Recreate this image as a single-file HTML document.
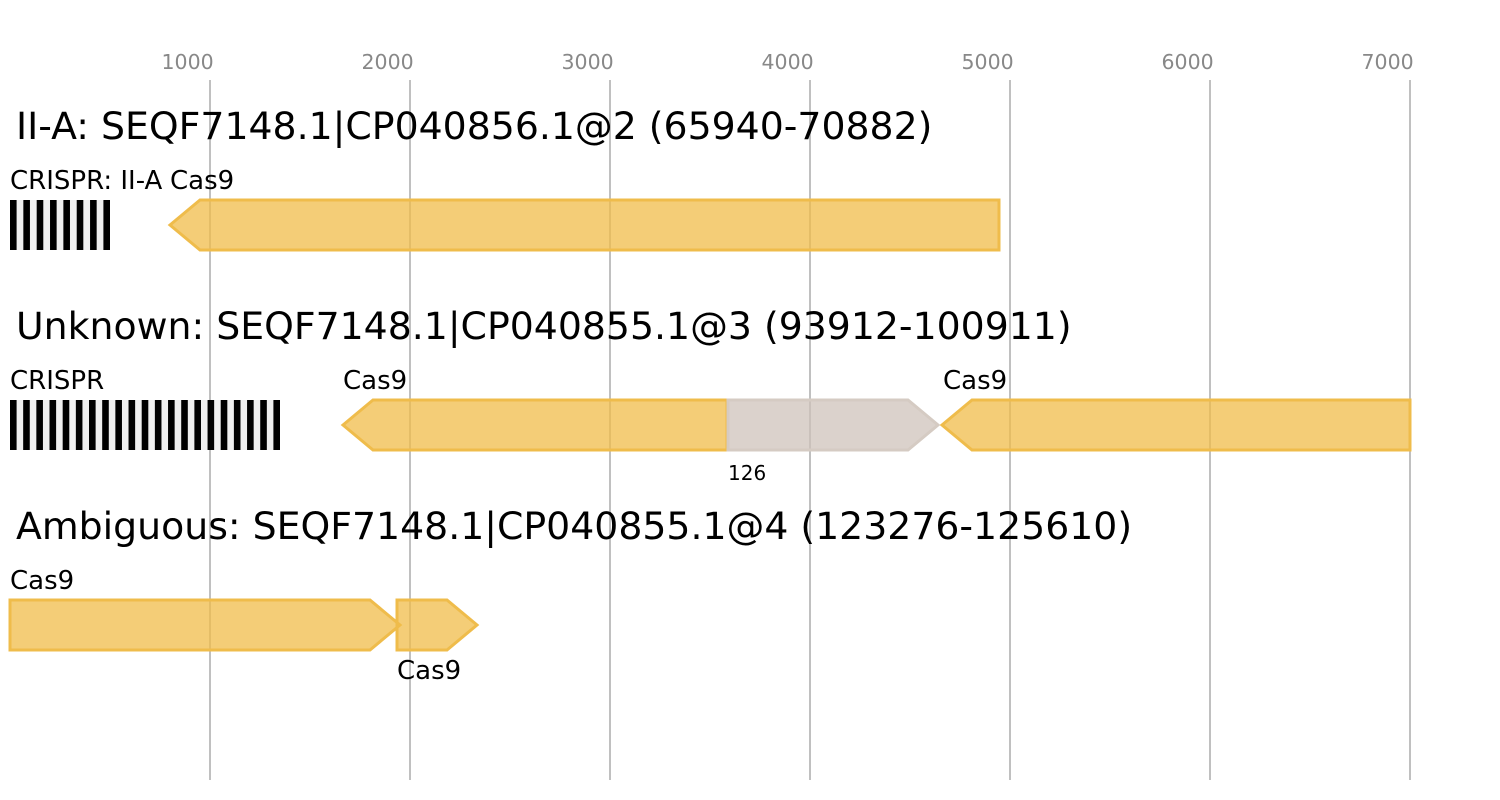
<!DOCTYPE html>
<html>
<head>
<meta charset="utf-8">
<style>
  html,body{margin:0;padding:0;background:#fff;}
  svg{display:block;}
  text{font-family:"DejaVu Sans","Liberation Sans",sans-serif;}
</style>
</head>
<body>
<svg width="1500" height="800" viewBox="0 0 1500 800" xmlns="http://www.w3.org/2000/svg">
  <rect x="0" y="0" width="1500" height="800" fill="#ffffff"/>

  <!-- grid lines -->
  <g stroke="#c0c0c0" stroke-width="2">
    <line x1="210" y1="80" x2="210" y2="780"/>
    <line x1="410" y1="80" x2="410" y2="780"/>
    <line x1="610" y1="80" x2="610" y2="780"/>
    <line x1="810" y1="80" x2="810" y2="780"/>
    <line x1="1010" y1="80" x2="1010" y2="780"/>
    <line x1="1210" y1="80" x2="1210" y2="780"/>
    <line x1="1410" y1="80" x2="1410" y2="780"/>
  </g>

  <!-- tick labels -->
  <g fill="#888888" font-size="20.5">
    <text x="161.5" y="69">1000</text>
    <text x="361.5" y="69">2000</text>
    <text x="561.5" y="69">3000</text>
    <text x="761.5" y="69">4000</text>
    <text x="961.5" y="69">5000</text>
    <text x="1161.5" y="69">6000</text>
    <text x="1361.5" y="69">7000</text>
  </g>

  <!-- titles -->
  <g fill="#000" font-size="37.8">
    <text x="16" y="139">II-A: SEQF7148.1|CP040856.1@2 (65940-70882)</text>
    <text x="16" y="339">Unknown: SEQF7148.1|CP040855.1@3 (93912-100911)</text>
    <text x="16" y="539">Ambiguous: SEQF7148.1|CP040855.1@4 (123276-125610)</text>
  </g>

  <!-- small labels -->
  <g fill="#000" font-size="26">
    <text x="10" y="189">CRISPR: II-A</text>
    <text x="170" y="189">Cas9</text>
    <text x="10" y="389">CRISPR</text>
    <text x="343" y="389">Cas9</text>
    <text x="943" y="389">Cas9</text>
    <text x="10" y="589">Cas9</text>
    <text x="397" y="679">Cas9</text>
  </g>
  <text x="728" y="480" font-size="20" fill="#000">126</text>

  <!-- CRISPR array row 1 -->
  <rect x="10" y="200" width="100" height="50" fill="#efefef"/>
  <g fill="#000">
    <rect x="10" y="200" width="6.6" height="50"/>
    <rect x="23.34" y="200" width="6.6" height="50"/>
    <rect x="36.69" y="200" width="6.6" height="50"/>
    <rect x="50.03" y="200" width="6.6" height="50"/>
    <rect x="63.37" y="200" width="6.6" height="50"/>
    <rect x="76.71" y="200" width="6.6" height="50"/>
    <rect x="90.06" y="200" width="6.6" height="50"/>
    <rect x="103.4" y="200" width="6.6" height="50"/>
  </g>

  <!-- CRISPR array row 2 -->
  <rect x="10" y="400" width="270" height="50" fill="#efefef"/>
  <g fill="#000">
    <rect x="10" y="400" width="6.6" height="50"/>
    <rect x="23.17" y="400" width="6.6" height="50"/>
    <rect x="36.34" y="400" width="6.6" height="50"/>
    <rect x="49.51" y="400" width="6.6" height="50"/>
    <rect x="62.68" y="400" width="6.6" height="50"/>
    <rect x="75.85" y="400" width="6.6" height="50"/>
    <rect x="89.02" y="400" width="6.6" height="50"/>
    <rect x="102.19" y="400" width="6.6" height="50"/>
    <rect x="115.36" y="400" width="6.6" height="50"/>
    <rect x="128.53" y="400" width="6.6" height="50"/>
    <rect x="141.7" y="400" width="6.6" height="50"/>
    <rect x="154.87" y="400" width="6.6" height="50"/>
    <rect x="168.04" y="400" width="6.6" height="50"/>
    <rect x="181.21" y="400" width="6.6" height="50"/>
    <rect x="194.38" y="400" width="6.6" height="50"/>
    <rect x="207.55" y="400" width="6.6" height="50"/>
    <rect x="220.72" y="400" width="6.6" height="50"/>
    <rect x="233.89" y="400" width="6.6" height="50"/>
    <rect x="247.06" y="400" width="6.6" height="50"/>
    <rect x="260.23" y="400" width="6.6" height="50"/>
    <rect x="273.4" y="400" width="6.6" height="50"/>
  </g>

  <!-- gene arrows -->
  <g stroke-width="3" stroke-linejoin="miter">
    <!-- row 1 -->
    <polygon points="170,225 200,200 999,200 999,250 200,250" fill="rgba(240,188,74,0.75)" stroke="#efbc4b"/>
    <!-- row 2 -->
    <polygon points="343,425 373,400 727,400 727,450 373,450" fill="rgba(240,188,74,0.75)" stroke="#efbc4b"/>
    <polygon points="728,400 908,400 938,425 908,450 728,450" fill="rgba(205,193,185,0.72)" stroke="#d5cbc3"/>
    <polygon points="942,425 972,400 1410,400 1410,450 972,450" fill="rgba(240,188,74,0.75)" stroke="#efbc4b"/>
    <!-- row 3 -->
    <polygon points="10,600 370,600 400,625 370,650 10,650" fill="rgba(240,188,74,0.75)" stroke="#efbc4b"/>
    <polygon points="397,600 447,600 477,625 447,650 397,650" fill="rgba(240,188,74,0.75)" stroke="#efbc4b"/>
  </g>
</svg>
</body>
</html>
